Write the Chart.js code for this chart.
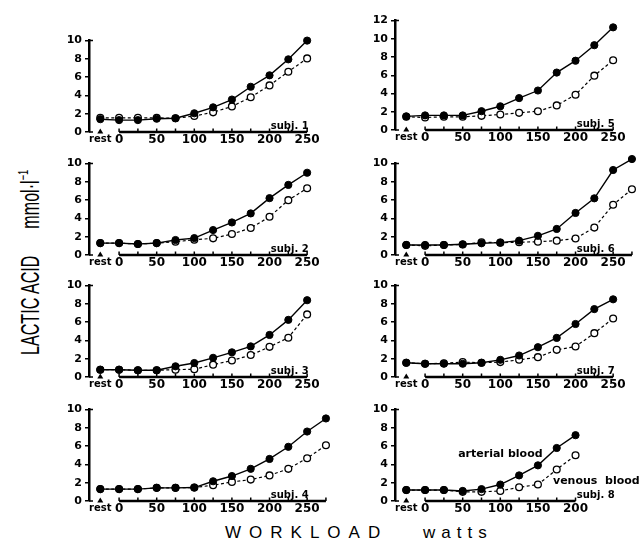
<!DOCTYPE html>
<html lang="en">
<head>
<meta charset="UTF-8">
<title>Lactic acid vs workload</title>
<script src="https://cdn.jsdelivr.net/npm/chart.js"></script>
<style>
  body { margin: 0; background: #fff; }
  #page { position: relative; width: 643px; height: 542px; overflow: hidden; background: #fff; }
  #page canvas { position: absolute; }
  .ylab { position: absolute; left: 17px; top: 355px; transform-origin: 0 0; transform: rotate(-90deg) scaleX(0.62);
          font: 26px/26px "Liberation Sans", sans-serif; white-space: pre; color: #000; }
  .ylab sup { font-size: 15px; line-height: 0; vertical-align: 11px; }
  .xlab { position: absolute; top: 524px; font: 17px/17px "Liberation Sans", sans-serif; color: #000; white-space: pre; }
</style>
</head>
<body>
<div id="page">
  <div class="ylab">LACTIC ACID      mmol·l<sup>−1</sup></div>
  <div class="xlab" style="left:225px; letter-spacing:8px;">WORKLOAD</div>
  <div class="xlab" style="left:423px; letter-spacing:6px;">watts</div>
</div>

<script>
// workload steps (watts); 'rest' is the resting sample before exercise
const work250 = ['rest', 0, 25, 50, 75, 100, 125, 150, 175, 200, 225, 250];
const work275 = ['rest', 0, 25, 50, 75, 100, 125, 150, 175, 200, 225, 250, 275];
const work200 = ['rest', 0, 25, 50, 75, 100, 125, 150, 175, 200];

// lactic acid, mmol/l  (art = arterial blood, ven = venous blood)
const art1 = [1.4, 1.3, 1.3, 1.45, 1.5, 2.05, 2.7, 3.55, 4.95, 6.2, 7.95, 10.0];
const ven1 = [1.55, 1.55, 1.55, 1.55, 1.5, 1.75, 2.15, 2.8, 3.8, 5.1, 6.6, 8.05];
const art2 = [1.3, 1.3, 1.2, 1.3, 1.64, 1.85, 2.73, 3.56, 4.55, 6.22, 7.67, 9.0];
const ven2 = [1.3, 1.3, 1.2, 1.3, 1.45, 1.67, 1.82, 2.29, 2.95, 4.18, 6.0, 7.3];
const art3 = [0.8, 0.8, 0.74, 0.74, 1.17, 1.53, 2.1, 2.7, 3.35, 4.6, 6.25, 8.4];
const ven3 = [0.8, 0.8, 0.74, 0.74, 0.8, 0.85, 1.35, 1.8, 2.4, 3.3, 4.3, 6.85];
const art4 = [1.3, 1.3, 1.3, 1.44, 1.44, 1.47, 2.16, 2.73, 3.52, 4.6, 5.93, 7.6, 9.03];
const ven4 = [1.3, 1.3, 1.3, 1.44, 1.44, 1.47, 1.73, 2.09, 2.34, 2.8, 3.52, 4.68, 6.1];
const art5 = [1.5, 1.6, 1.6, 1.6, 2.06, 2.6, 3.5, 4.33, 6.3, 7.6, 9.3, 11.26];
const ven5 = [1.45, 1.37, 1.45, 1.45, 1.55, 1.7, 1.88, 2.06, 2.7, 3.86, 5.96, 7.65];
const art6 = [1.1, 1.1, 1.1, 1.17, 1.28, 1.35, 1.57, 2.1, 2.85, 4.6, 6.2, 9.3, 10.5];
const ven6 = [1.1, 1.0, 1.1, 1.15, 1.4, 1.35, 1.4, 1.45, 1.57, 1.8, 3.0, 5.5, 7.2];
const art7 = [1.56, 1.45, 1.45, 1.45, 1.56, 1.88, 2.35, 3.26, 4.28, 5.8, 7.43, 8.5];
const ven7 = [1.56, 1.45, 1.5, 1.63, 1.56, 1.63, 1.88, 2.17, 2.97, 3.33, 4.8, 6.4];
const art8 = [1.2, 1.2, 1.2, 1.1, 1.3, 1.8, 2.8, 3.9, 5.8, 7.2];
const ven8 = [1.2, 1.2, 1.2, 1.0, 1.0, 1.1, 1.5, 1.8, 3.45, 5.0];

// x tick labels
const ticks250 = [0, 50, 100, 150, 200, 250];
const ticks200 = [0, 50, 100, 150, 200];

const REST_X = -25;   // where 'rest' sits on the watt axis
const FONT = "'DejaVu Sans', sans-serif";

const panels = [
  { subj: 'subj. 1', work: work250, art: art1, ven: ven1, yMax: 10, end: 250, ticks: ticks250, left: 59,  top: 31,  h: 119 },
  { subj: 'subj. 2', work: work250, art: art2, ven: ven2, yMax: 10, end: 250, ticks: ticks250, left: 59,  top: 154, h: 119 },
  { subj: 'subj. 3', work: work250, art: art3, ven: ven3, yMax: 10, end: 250, ticks: ticks250, left: 59,  top: 276, h: 119 },
  { subj: 'subj. 4', work: work275, art: art4, ven: ven4, yMax: 10, end: 275, ticks: ticks250, left: 59,  top: 400, h: 119 },
  { subj: 'subj. 5', work: work250, art: art5, ven: ven5, yMax: 12, end: 250, ticks: ticks250, left: 365, top: 11,  h: 137 },
  { subj: 'subj. 6', work: work275, art: art6, ven: ven6, yMax: 10, end: 275, ticks: ticks250, left: 365, top: 154, h: 119 },
  { subj: 'subj. 7', work: work250, art: art7, ven: ven7, yMax: 10, end: 250, ticks: ticks250, left: 365, top: 276, h: 119 },
  { subj: 'subj. 8', work: work200, art: art8, ven: ven8, yMax: 10, end: 200, ticks: ticks200, left: 365, top: 400, h: 119,
    notes: [ { text: 'arterial blood', x: 44, y: 4.8 }, { text: 'venous  blood', x: 170, y: 1.85 } ] }
];

// axis line from 0 W, little ticks, rest triangle, subject label
const panelDecor = {
  id: 'panelDecor',
  beforeDatasetsDraw(chart, args, opts) {
    const { ctx, chartArea } = chart;
    const x = chart.scales.x, y = chart.scales.y;
    const y0 = y.getPixelForValue(0);
    const yTop = y.getPixelForValue(y.max);
    const ax = chartArea.left;
    ctx.save();
    ctx.strokeStyle = '#000';
    ctx.fillStyle = '#000';

    ctx.lineWidth = 2.5;
    ctx.beginPath();
    ctx.moveTo(x.getPixelForValue(0), y0);
    ctx.lineTo(x.getPixelForValue(opts.end), y0);
    ctx.stroke();

    ctx.lineWidth = 1.5;
    ctx.beginPath();
    ctx.moveTo(ax, y0); ctx.lineTo(ax + 4, y0);
    ctx.moveTo(ax, yTop); ctx.lineTo(ax + 4, yTop);
    for (let w = 0; w <= opts.end; w += 25) {
      const px = x.getPixelForValue(w);
      ctx.moveTo(px, y0); ctx.lineTo(px, y0 - 3.5);
    }
    ctx.stroke();

    const rx = x.getPixelForValue(REST_X);
    ctx.beginPath();
    ctx.moveTo(rx - 3, y0 + 1.5);
    ctx.lineTo(rx + 3, y0 + 1.5);
    ctx.lineTo(rx, y0 - 3.5);
    ctx.closePath();
    ctx.fill();

    ctx.font = 'bold 10px ' + FONT;
    ctx.textBaseline = 'alphabetic';
    ctx.textAlign = 'right';
    ctx.fillText(opts.subj, x.getPixelForValue(252), y0 - 3);

    ctx.font = 'bold 11px ' + FONT;
    ctx.textAlign = 'left';
    (opts.notes || []).forEach(n => {
      ctx.fillText(n.text, x.getPixelForValue(n.x), y.getPixelForValue(n.y));
    });
    ctx.restore();
  }
};

const page = document.getElementById('page');

panels.forEach(p => {
  const cv = document.createElement('canvas');
  cv.width = 276;
  cv.height = p.h;
  cv.style.left = p.left + 'px';
  cv.style.top = p.top + 'px';
  page.appendChild(cv);

  const pts = vals => p.work.map((w, i) => ({ x: w === 'rest' ? REST_X : w, y: vals[i] }));
  const labelVals = [REST_X].concat(p.ticks);

  new Chart(cv.getContext('2d'), {
    type: 'line',
    data: {
      datasets: [
        {
          label: 'arterial blood',
          data: pts(p.art),
          borderColor: '#000',
          borderWidth: 1.4,
          pointRadius: 3.6,
          pointBackgroundColor: '#000',
          pointBorderColor: '#000',
          pointBorderWidth: 1,
          clip: false
        },
        {
          label: 'venous blood',
          data: pts(p.ven),
          borderColor: '#000',
          borderWidth: 1.2,
          borderDash: [3, 2.5],
          pointRadius: 3.4,
          pointBackgroundColor: '#fff',
          pointBorderColor: '#000',
          pointBorderWidth: 1.3,
          clip: false
        }
      ]
    },
    options: {
      responsive: false,
      animation: false,
      devicePixelRatio: 1,
      layout: { padding: { top: 8, right: 0, bottom: 0, left: 0 } },
      plugins: {
        legend: { display: false },
        tooltip: { enabled: false },
        panelDecor: { end: p.end, subj: p.subj, notes: p.notes }
      },
      scales: {
        x: {
          type: 'linear',
          min: -40,
          max: 280,
          grid: { display: false, drawTicks: false },
          border: { display: false },
          afterBuildTicks: s => { s.ticks = labelVals.map(v => ({ value: v })); },
          afterFit: s => { s.height = 18; },
          ticks: {
            autoSkip: false,
            maxRotation: 0,
            padding: 1,
            color: '#000',
            font: c => (c.tick && c.tick.value === REST_X)
              ? { family: FONT, size: 10, weight: 'bold' }
              : { family: FONT, size: 12, weight: 'bold' },
            callback: v => v === REST_X ? 'rest' : v
          }
        },
        y: {
          min: 0,
          max: p.yMax,
          grid: { drawOnChartArea: false, drawTicks: true, tickLength: 4, color: '#000', lineWidth: 1.5 },
          border: { display: true, color: '#000', width: 2.5 },
          afterFit: s => { s.width = 30; },
          ticks: { stepSize: 2, padding: 3, color: '#000', font: { family: FONT, size: 11, weight: 'bold' } }
        }
      }
    },
    plugins: [panelDecor]
  });
});
</script>
</body>
</html>
